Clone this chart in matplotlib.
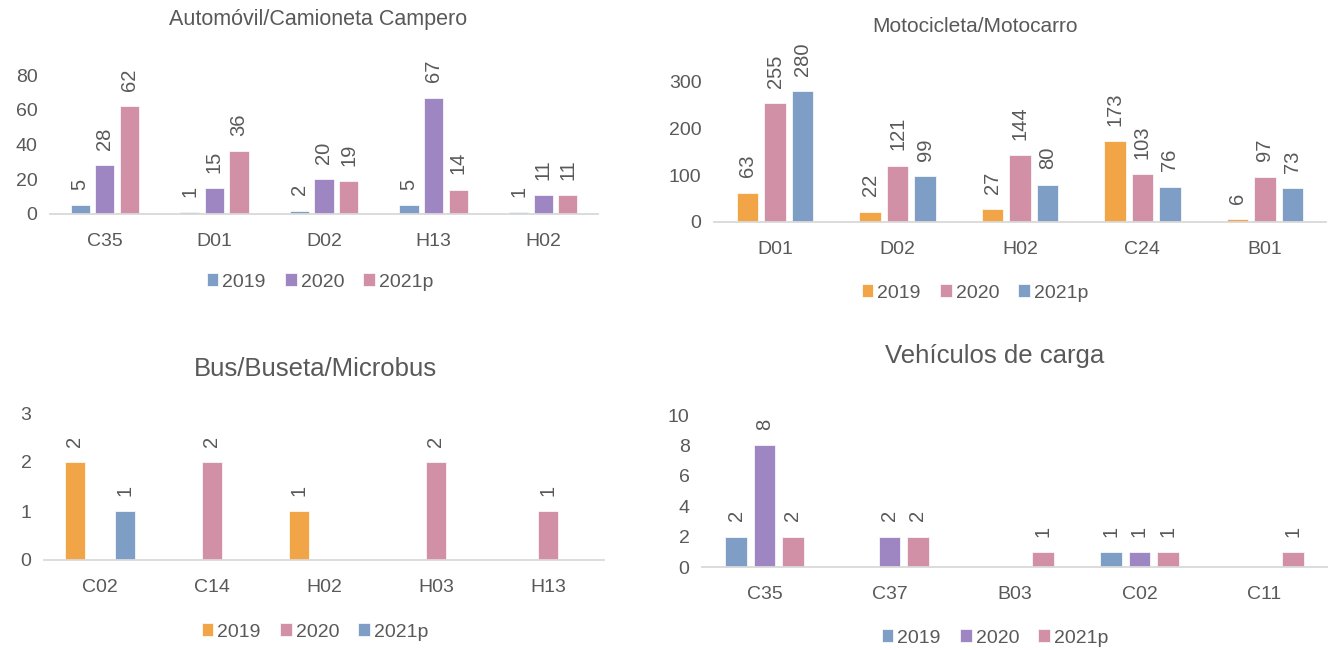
import numpy as np
import matplotlib
matplotlib.use('Agg')
import matplotlib.pyplot as plt

plt.rcParams['font.family'] = ['Liberation Sans', 'DejaVu Sans']

## data
years = ['2019', '2020', '2021p']

auto_cats = ['C35', 'D01', 'D02', 'H13', 'H02']
auto_2019 = [5, 1, 2, 5, 1]
auto_2020 = [28, 15, 20, 67, 11]
auto_2021 = [62, 36, 19, 14, 11]

moto_cats = ['D01', 'D02', 'H02', 'C24', 'B01']
moto_2019 = [63, 22, 27, 173, 6]
moto_2020 = [255, 121, 144, 103, 97]
moto_2021 = [280, 99, 80, 76, 73]

bus_cats = ['C02', 'C14', 'H02', 'H03', 'H13']
bus_2019 = [2, np.nan, 1, np.nan, np.nan]
bus_2020 = [np.nan, 2, np.nan, 2, 1]
bus_2021 = [1, np.nan, np.nan, np.nan, np.nan]

carga_cats = ['C35', 'C37', 'B03', 'C02', 'C11']
carga_2019 = [2, np.nan, np.nan, 1, np.nan]
carga_2020 = [8, 2, np.nan, 1, np.nan]
carga_2021 = [2, 2, 1, 1, 1]

## styling
blue, purple, pink, orange = '#7f9ec5', '#9d86c1', '#d190a6', '#f2a546'
txt = '#595959'
W, H = 1335, 650

fig = plt.figure(figsize=(W / 100, H / 100), dpi=100)

# axes box in pixels (left, right, y of 0, y of ymax), title and legend centres in pixels
panels = [
    dict(cats=auto_cats, vals=[auto_2019, auto_2020, auto_2021], box=(50, 598, 214, 75),
         ymax=80, yticks=[0, 20, 40, 60, 80], colors=[blue, purple, pink],
         title='Automóvil/Camioneta Campero', tpos=(318, 20), tsize=15.5, lpos=(320, 282)),
    dict(cats=moto_cats, vals=[moto_2019, moto_2020, moto_2021], box=(714, 1326, 222, 82),
         ymax=300, yticks=[0, 100, 200, 300], colors=[orange, pink, blue],
         title='Motocicleta/Motocarro', tpos=(975, 27), tsize=15, lpos=(975, 293)),
    dict(cats=bus_cats, vals=[bus_2019, bus_2020, bus_2021], box=(44, 604, 560, 413),
         ymax=3, yticks=[0, 1, 2, 3], colors=[orange, pink, blue],
         title='Bus/Buseta/Microbus', tpos=(315, 369), tsize=18.5, lpos=(315, 632)),
    dict(cats=carga_cats, vals=[carga_2019, carga_2020, carga_2021], box=(702, 1327, 567, 415),
         ymax=10, yticks=[0, 2, 4, 6, 8, 10], colors=[blue, purple, pink],
         title='Vehículos de carga', tpos=(995, 356), tsize=18.5, lpos=(995, 638)),
]

for p in panels:
    x0, x1, yb, yt = p['box']
    ax = fig.add_axes([x0 / W, 1 - yb / H, (x1 - x0) / W, (yb - yt) / H])
    x = np.arange(len(p['cats']))
    handles = []
    for k, (vals, col, lbl) in enumerate(zip(p['vals'], p['colors'], years)):
        vals = np.array(vals, dtype=float)
        bars = ax.bar(x + (k - 1) * 0.225, np.nan_to_num(vals), width=0.175, color=col,
                      edgecolor='white', linewidth=0.5, label=lbl)
        labels = ['' if np.isnan(v) else f'{v:g}' for v in vals]
        ax.bar_label(bars, labels=labels, rotation=90, padding=11, fontsize=14.5,
                     color=txt, clip_on=False)
        handles.append(bars)

    ax.set_xlim(-0.5, len(p['cats']) - 0.5)
    ax.set_ylim(0, p['ymax'])
    ax.set_yticks(p['yticks'])
    ax.set_xticks(x, p['cats'])
    ax.tick_params(length=0, labelsize=14, colors=txt)
    ax.tick_params(axis='x', pad=14)
    ax.tick_params(axis='y', pad=9)
    for s in ['top', 'right', 'left']:
        ax.spines[s].set_visible(False)
    ax.spines['bottom'].set_color('#d9d9d9')
    ax.spines['bottom'].set_linewidth(1.3)
    ax.patch.set_alpha(0)

    fig.text(p['tpos'][0] / W, 1 - p['tpos'][1] / H, p['title'], ha='center',
             va='center', fontsize=p['tsize'], color=txt)
    fig.legend(handles=handles, loc='center', ncol=3, frameon=False,
               bbox_to_anchor=(p['lpos'][0] / W, 1 - p['lpos'][1] / H),
               fontsize=14, labelcolor=txt, handlelength=0.6, handleheight=0.6,
               handletextpad=0.2, columnspacing=1.0)

fig.savefig('out.png', dpi=100)
